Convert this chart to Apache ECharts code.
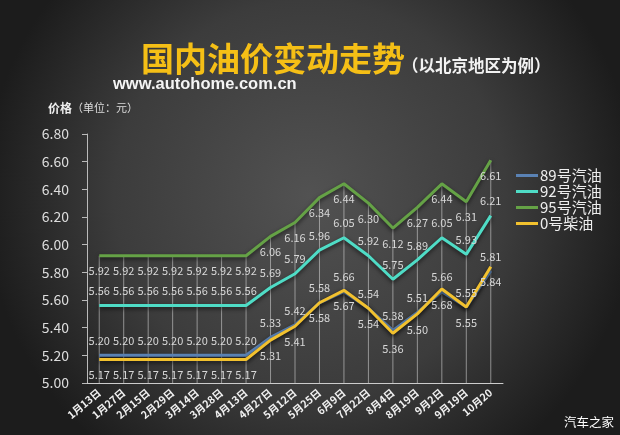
<!DOCTYPE html>
<html>
<head>
<meta charset="utf-8">
<script src="https://cdn.jsdelivr.net/npm/echarts@6/dist/echarts.min.js"></script>
<style>
html,body{margin:0;padding:0;}
#c{width:620px;height:435px;}
</style>
</head>
<body>
<div id="c"></div>
<script>
const categories = ['1月13日','1月27日','2月15日','2月29日','3月14日','3月28日','4月13日','4月27日','5月12日','5月25日','6月9日','7月22日','8月4日','8月19日','9月2日','9月19日','10月20'];
const seriesNames = ['89号汽油','92号汽油','95号汽油','0号柴油'];
const gas89 = [5.20,5.20,5.20,5.20,5.20,5.20,5.20,5.33,5.42,5.58,5.66,5.54,5.38,5.51,5.66,5.55,5.81];
const gas92 = [5.56,5.56,5.56,5.56,5.56,5.56,5.56,5.69,5.79,5.96,6.05,5.92,5.75,5.89,6.05,5.93,6.21];
const gas95 = [5.92,5.92,5.92,5.92,5.92,5.92,5.92,6.06,6.16,6.34,6.44,6.30,6.12,6.27,6.44,6.31,6.61];
const diesel0 = [5.17,5.17,5.17,5.17,5.17,5.17,5.17,5.31,5.41,5.58,5.67,5.54,5.36,5.50,5.68,5.55,5.84];
const yTicks = {min:5.0, max:6.8, interval:0.2};

const FONT = '"Noto Sans CJK SC", "Noto Sans", sans-serif';
const chart = echarts.init(document.getElementById('c'));

function lineSeries(name, data, color, pos, dist){
  return {
    name: name, type: 'line', data: data,
    color: color,
    symbol: 'circle', symbolSize: 0, showSymbol: true,
    lineStyle: {width: 3, color: color, shadowColor: 'rgba(0,0,0,0.6)', shadowBlur: 4, shadowOffsetY: 2},
    label: {show: true, position: pos, distance: dist, color: '#d8d8d8', fontSize: 11, fontFamily: FONT,
      formatter: p => p.value.toFixed(2)},
    z: 3
  };
}

chart.setOption({
  backgroundColor: {
    type: 'radial', x: 0.5, y: 0.45, r: 0.75,
    colorStops: [{offset: 0, color: '#525252'}, {offset: 0.6, color: '#3c3c3c'}, {offset: 1, color: '#1c1c1c'}]
  },
  textStyle: {fontFamily: FONT},
  graphic: [
    {type: 'text', left: 141, top: 42, style: {text: '国内油价变动走势', fill: '#f5bf16', font: 'bold 33px ' + FONT,
      shadowColor: 'rgba(0,0,0,0.5)', shadowBlur: 3, shadowOffsetY: 1}},
    {type: 'text', left: 402, top: 57, style: {text: '（以北京地区为例）', fill: '#f2f2f2', font: 'bold 16.5px ' + FONT}},
    {type: 'text', left: 113, top: 76, style: {text: 'www.autohome.com.cn', fill: '#f4f4f4', font: 'bold 16.5px "Liberation Sans", Arial, sans-serif'}},
    {type: 'text', left: 48, top: 102, style: {
      text: '{a|价格}{b|（单位：元）}',
      rich: {a: {font: 'bold 12px ' + FONT, fill: '#eeeeee'}, b: {font: '11px ' + FONT, fill: '#dddddd'}}}},
    {type: 'text', right: 6, top: 416, style: {text: '汽车之家', fill: '#ffffff', font: '12.5px ' + FONT}}
  ],
  legend: {
    data: seriesNames,
    orient: 'vertical', left: 511, top: 163,
    itemWidth: 22, itemHeight: 3, itemGap: 1, icon: 'rect',
    textStyle: {color: '#eeeeee', fontSize: 15, fontFamily: FONT, padding: [0,0,0,-3]}
  },
  grid: {left: 87, right: 117, top: 134, bottom: 52},
  xAxis: {
    type: 'category', data: categories, boundaryGap: true,
    axisLine: {lineStyle: {color: '#cccccc', width: 1}},
    axisTick: {show: false},
    axisLabel: {rotate: 40, color: '#f0f0f0', fontSize: 10.5, fontWeight: 'bold', margin: 8, interval: 0, fontFamily: FONT}
  },
  yAxis: {
    type: 'value', min: yTicks.min, max: yTicks.max, interval: yTicks.interval,
    axisLine: {show: true, lineStyle: {color: '#bbbbbb'}},
    axisTick: {show: true, length: 5, lineStyle: {color: '#bbbbbb'}},
    splitLine: {show: false},
    axisLabel: {color: '#dddddd', fontSize: 14, margin: 18, fontFamily: FONT, formatter: v => v.toFixed(2)}
  },
  series: [
    {name: 'drop', type: 'bar', data: gas95, barWidth: 1, barGap: '-100%', silent: true,
      itemStyle: {color: 'rgba(220,220,220,0.55)'}, z: 1},
    lineSeries(seriesNames[0], gas89, '#5a82b4', 'top', 9),
    lineSeries(seriesNames[1], gas92, '#4fdcc6', 'top', 9),
    lineSeries(seriesNames[2], gas95, '#65a246', 'bottom', 10),
    lineSeries(seriesNames[3], diesel0, '#f2c12e', 'bottom', 10)
  ]
});
</script>
</body>
</html>
